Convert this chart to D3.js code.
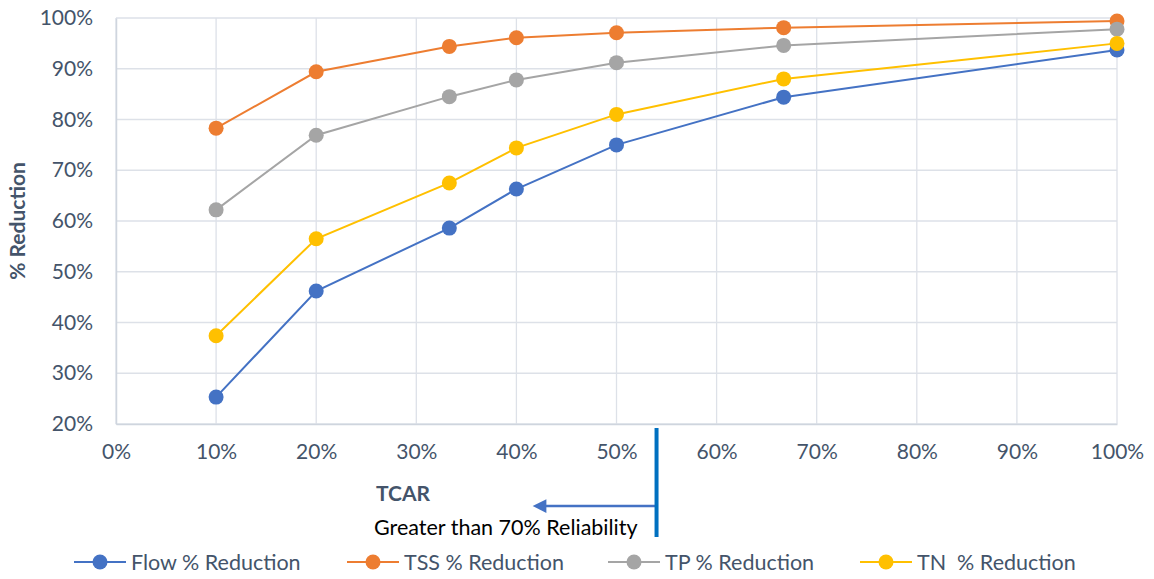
<!DOCTYPE html>
<html><head><meta charset="utf-8">
<script src="https://cdn.jsdelivr.net/npm/d3@7"></script>
<style>body{margin:0;background:#fff}svg{display:block}text{font-family:Lato,"Open Sans",sans-serif}</style>
</head><body>
<svg id="c" width="1154" height="579"></svg>
<script>
const xVals = [0.10, 0.20, 0.333, 0.40, 0.50, 0.667, 1.00];
const flow = [0.253, 0.462, 0.586, 0.663, 0.750, 0.844, 0.937];
const tss  = [0.783, 0.894, 0.944, 0.961, 0.971, 0.981, 0.994];
const tp   = [0.622, 0.769, 0.845, 0.878, 0.912, 0.946, 0.978];
const tn   = [0.374, 0.565, 0.675, 0.744, 0.810, 0.880, 0.950];
const seriesNames = ["Flow % Reduction", "TSS % Reduction", "TP % Reduction", "TN  % Reduction"];
const colors = ["#4472C4", "#ED7D31", "#A5A5A5", "#FFC000"];
const xTicks = [0,0.1,0.2,0.3,0.4,0.5,0.6,0.7,0.8,0.9,1.0];
const yTicks = [0.2,0.3,0.4,0.5,0.6,0.7,0.8,0.9,1.0];
const markerX = 0.54;

const svg = d3.select("#c");
const x = d3.scaleLinear().domain([0,1]).range([116,1117]);
const y = d3.scaleLinear().domain([0.2,1]).range([424,18]);
const fmt = d3.format(".0%");
const textCol = "#44546A";

// grid
svg.append("g").selectAll("line").data(yTicks).join("line")
  .attr("x1", x(0)).attr("x2", x(1)).attr("y1", d=>y(d)).attr("y2", d=>y(d))
  .attr("stroke", "#DDE1E8").attr("stroke-width", 1.3);
svg.append("g").selectAll("line").data(xTicks).join("line")
  .attr("x1", d=>x(d)).attr("x2", d=>x(d)).attr("y1", y(0.2)).attr("y2", y(1))
  .attr("stroke", "#DDE1E8").attr("stroke-width", 1.3);
// axes
const xAxis = svg.append("g").attr("transform", `translate(0,${y(0.2)})`)
  .call(d3.axisBottom(x).tickValues(xTicks).tickFormat(fmt).tickSize(0).tickPadding(20));
const yAxis = svg.append("g").attr("transform", `translate(${x(0)},0)`)
  .call(d3.axisLeft(y).tickValues(yTicks).tickFormat(fmt).tickSize(0).tickPadding(23));
[xAxis, yAxis].forEach(a => {
  a.select(".domain").attr("stroke", "#CFD5DE").attr("stroke-width", 1.5);
  a.selectAll("text").attr("fill", textCol).style("font-size", "21px").style("font-family", "Lato,sans-serif");
});

svg.append("text").attr("transform", `translate(25,${y(0.6)}) rotate(-90)`)
  .attr("text-anchor", "middle").attr("fill", textCol).style("font-size", "21px").style("font-weight", "bold")
  .text("% Reduction");

const allSeries = [flow, tss, tp, tn];
const line = d3.line().x((d,i)=>x(xVals[i])).y(d=>y(d));
allSeries.forEach((s, k) => {
  svg.append("path").datum(s).attr("d", line).attr("fill", "none")
    .attr("stroke", colors[k]).attr("stroke-width", 2);
});
allSeries.forEach((s, k) => {
  svg.append("g").selectAll("circle").data(s).join("circle")
    .attr("cx", (d,i)=>x(xVals[i])).attr("cy", d=>y(d)).attr("r", 7.5)
    .attr("fill", colors[k]);
});

// annotation
svg.append("defs").append("marker").attr("id","ah").attr("viewBox","0 0 10 10")
  .attr("refX",1).attr("refY",5).attr("markerWidth",6).attr("markerHeight",5.5).attr("orient","auto")
  .attr("markerUnits","strokeWidth")
  .append("path").attr("d","M0,0 L10,5 L0,10 z").attr("fill","#4472C4");
svg.append("line").attr("x1", x(markerX)).attr("x2", 545).attr("y1", 506).attr("y2", 506)
  .attr("stroke","#4472C4").attr("stroke-width",2.5).attr("marker-end","url(#ah)");
svg.append("line").attr("x1", x(markerX)).attr("x2", x(markerX)).attr("y1", 428).attr("y2", 537)
  .attr("stroke","#0070C0").attr("stroke-width",4);
svg.append("text").attr("x",376).attr("y",501).attr("fill",textCol).style("font-size","21px").style("font-weight","bold").text("TCAR");
svg.append("text").attr("x",374).attr("y",535).attr("fill","#000").style("font-size","21.5px").text("Greater than 70% Reliability");

// legend
const legX = [74, 347, 608, 860];
seriesNames.forEach((n,k) => {
  const g = svg.append("g").attr("transform", `translate(${legX[k]},562)`);
  g.append("line").attr("x1",0).attr("x2",52).attr("stroke",colors[k]).attr("stroke-width",2);
  g.append("circle").attr("cx",26).attr("r",7.5).attr("fill",colors[k]);
  g.append("text").attr("x",57).attr("y",8).attr("fill",textCol).style("font-size","21.5px")
    .style("white-space","pre").attr("xml:space","preserve").text(n);
});
</script>
</body></html>
